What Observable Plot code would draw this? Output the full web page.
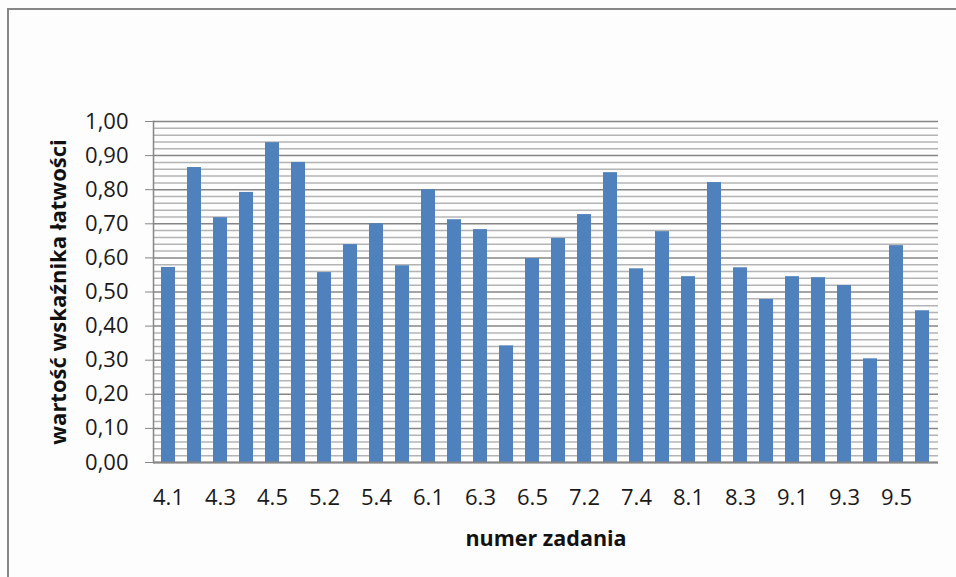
<!DOCTYPE html>
<html>
<head>
<meta charset="utf-8">
<script src="https://cdn.jsdelivr.net/npm/d3@7"></script>
<script src="https://cdn.jsdelivr.net/npm/@observablehq/plot@0.6"></script>
<style>
  body { margin: 0; background: #fdfdfd; }
  #wrap { position: relative; width: 956px; height: 577px; overflow: hidden; background: #fdfdfd; }
  #border { position: absolute; left: 7px; top: 8px; width: 1000px; height: 1000px; border: 2px solid #868686; }
  #chart { position: absolute; left: 0; top: 0; }
</style>
</head>
<body>
<div id="wrap">
  <div id="border"></div>
  <div id="chart"></div>
</div>
<script>
const categories = ["4.1","4.2","4.3","4.4","4.5","5.1","5.2","5.3","5.4","5.5",
  "6.1","6.2","6.3","6.4","6.5","7.1","7.2","7.3","7.4","7.5",
  "8.1","8.2","8.3","8.4","9.1","9.2","9.3","9.4","9.5","9.6"];
const values = [0.572,0.865,0.718,0.792,0.938,0.880,0.557,0.639,0.700,0.577,
  0.800,0.712,0.683,0.342,0.598,0.657,0.727,0.850,0.568,0.677,
  0.545,0.821,0.571,0.478,0.545,0.542,0.519,0.304,0.636,0.445];
const xTickLabels = ["4.1","4.3","4.5","5.2","5.4","6.1","6.3","6.5","7.2","7.4","8.1","8.3","9.1","9.3","9.5"];
const yMajorTicks = [0,0.1,0.2,0.3,0.4,0.5,0.6,0.7,0.8,0.9,1.0];
const yMinorTicks = [0.02,0.04,0.06,0.08,0.12,0.14,0.16,0.18,0.22,0.24,0.26,0.28,0.32,0.34,0.36,0.38,
  0.42,0.44,0.46,0.48,0.52,0.54,0.56,0.58,0.62,0.64,0.66,0.68,0.72,0.74,0.76,0.78,
  0.82,0.84,0.86,0.88,0.92,0.94,0.96,0.98];
const xTitle = "numer zadania";
const yTitle = "wartość wskaźnika łatwości";

const data = categories.map((c, i) => ({cat: c, value: values[i]}));
const fmt = d => d.toFixed(2).replace(".", ",");

const chart = Plot.plot({
  width: 956,
  height: 577,
  marginLeft: 153,
  marginRight: 18,
  marginTop: 121,
  marginBottom: 115,
  style: {fontFamily: "'Open Sans', sans-serif", fontSize: "22px", background: "transparent", color: "#1a1a1a"},
  x: {domain: categories, paddingInner: 0.45, paddingOuter: 0.225},
  y: {domain: [0, 1]},
  marks: [
    Plot.ruleY(yMinorTicks, {stroke: "#b4b4b4", strokeWidth: 1.5}),
    Plot.ruleY(yMajorTicks, {stroke: "#868686", strokeWidth: 1.5}),
    Plot.barY(data, {x: "cat", y: "value", fill: "#4f81bd"}),
    Plot.ruleY([0], {stroke: "#868686", strokeWidth: 2}),
    Plot.frame({anchor: "left", stroke: "#868686", strokeWidth: 1.5}),
    Plot.axisY(yMajorTicks, {tickSize: 8, tickPadding: 17, tickFormat: fmt, stroke: "#868686", label: null}),
    Plot.axisX(xTickLabels, {tickSize: 0, tickPadding: 27, label: null}),
    Plot.text([yTitle], {text: d => d, frameAnchor: "left", dx: -95, rotate: -90, textAnchor: "middle", lineAnchor: "middle", fontWeight: "bold", fontSize: 22, fill: "#111"}),
    Plot.text([xTitle], {text: d => d, frameAnchor: "bottom", dy: 77, textAnchor: "middle", lineAnchor: "middle", fontWeight: "bold", fontSize: 21.5, fill: "#111"})
  ]
});
document.getElementById("chart").appendChild(chart);
</script>
</body>
</html>
